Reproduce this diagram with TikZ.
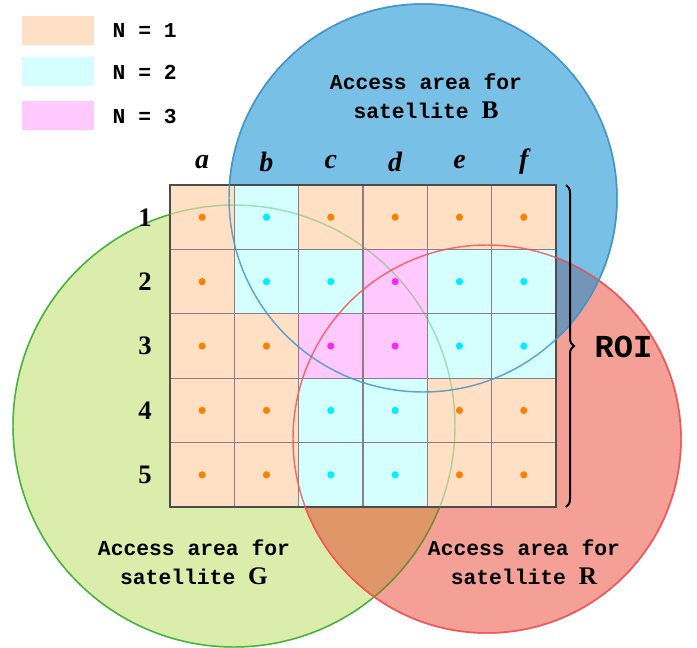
\documentclass[tikz,border=0pt]{standalone}
\usepackage{fontspec}
\setmainfont{Liberation Serif}
\setmonofont{Liberation Mono}
\usetikzlibrary{decorations.pathreplacing}
\definecolor{cell1}{RGB}{255,224,196}
\definecolor{cell2}{RGB}{213,255,255}
\definecolor{cell3}{RGB}{255,200,255}
\definecolor{dot1}{RGB}{255,128,0}
\definecolor{dot2}{RGB}{0,238,255}
\definecolor{dot3}{RGB}{245,40,245}
\definecolor{satG}{RGB}{218,237,170}
\definecolor{lineG}{RGB}{70,180,60}
\definecolor{satR}{RGB}{230,45,25}
\definecolor{lineR}{RGB}{245,85,85}
\definecolor{satB}{RGB}{10,140,210}
\definecolor{lineB}{RGB}{70,150,200}
\definecolor{gridline}{RGB}{140,125,135}
\newcommand{\satletter}[1]{{\rmfamily\fontsize{19}{22}\selectfont #1}}
\begin{document}
\begin{tikzpicture}[x=0.75pt, y=-0.75pt,
  mono/.style={font=\fontsize{16}{22}\selectfont\ttfamily\bfseries, align=center},
  rowlab/.style={font=\fontsize{20}{22}\selectfont\bfseries},
  collab/.style={font=\fontsize{21}{22}\selectfont\bfseries\itshape}]
\useasboundingbox (0,0) rectangle (697,647);
\def\cw{64.33}
\def\ch{64.4}
% access areas
\filldraw[fill=satG, draw=lineG, line width=1.1pt] (234,426) circle (221);
\filldraw[fill=satR, fill opacity=0.45, draw=lineR, line width=1.1pt] (487,439) circle (194);
\filldraw[fill=satB, fill opacity=0.55, draw=lineB, line width=1.1pt] (423,198) circle (194);
% legend
\fill[cell1] (22,16) rectangle (94,45);
\fill[cell2] (22,57) rectangle (94,86);
\fill[cell3] (22,101) rectangle (94,130);
\node[mono, anchor=west] (leg1) at (108,30) {N = 1};
\node[mono, anchor=west] (leg2) at (108,72) {N = 2};
\node[mono, anchor=west] (leg3) at (108,116) {N = 3};
% cells of the ROI
\foreach \r/\types in {1/{1,2,1,1,1,1}, 2/{1,2,2,3,2,2}, 3/{1,1,3,3,2,2},
                       4/{1,1,2,2,1,1}, 5/{1,1,2,2,1,1}}{
  \foreach \t [count=\c] in \types{
    \fill[cell\t] (170+\cw*\c-\cw,185+\ch*\r-\ch) rectangle ++(\cw,\ch);
    \fill[dot\t] (170+\cw*\c-\cw/2,185+\ch*\r-\ch/2) circle (3.6);
  }
}
\foreach \c in {1,...,5}
  \draw[gridline, line width=0.8pt] (170+\cw*\c,185) -- ++(0,5*\ch);
\foreach \r in {1,...,4}
  \draw[gridline, line width=0.8pt] (170,185+\ch*\r) -- ++(6*\cw,0);
\draw[black!70, line width=0.9pt] (170,185) rectangle ++(6*\cw,5*\ch);
% outlines seen through the grid
\draw[lineG, opacity=0.4, line width=1.1pt] (234,426) circle (221);
\draw[lineR, opacity=0.85, line width=1.1pt] (487,439) circle (194);
\draw[lineB, opacity=0.85, line width=1.1pt] (423,198) circle (194);
% row and column labels
\foreach \l [count=\c] in {a,b,c,d,e,f}
  \node[collab] (col\l) at (170+\cw*\c-\cw/2,162) {\l};
\foreach \r in {1,...,5}
  \node[rowlab] (row\r) at (145,185+\ch*\r-\ch/2) {\r};
% ROI brace
\coordinate (roitop) at (566,185);
\coordinate (roibot) at (566,507);
\draw[line width=1.5pt, decoration={brace, amplitude=6pt}, decorate] (roitop) -- (roibot);
\node[font=\fontsize{24}{26}\selectfont\ttfamily\bfseries, anchor=west] (roi) at (590,347) {ROI};
% satellite labels
\node[mono] (accB) at (426,96) {Access area for\\satellite \satletter{B}};
\node[mono] (accG) at (194,562) {Access area for\\satellite \satletter{G}};
\node[mono] (accR) at (524,562) {Access area for\\satellite \satletter{R}};
\end{tikzpicture}
\end{document}
